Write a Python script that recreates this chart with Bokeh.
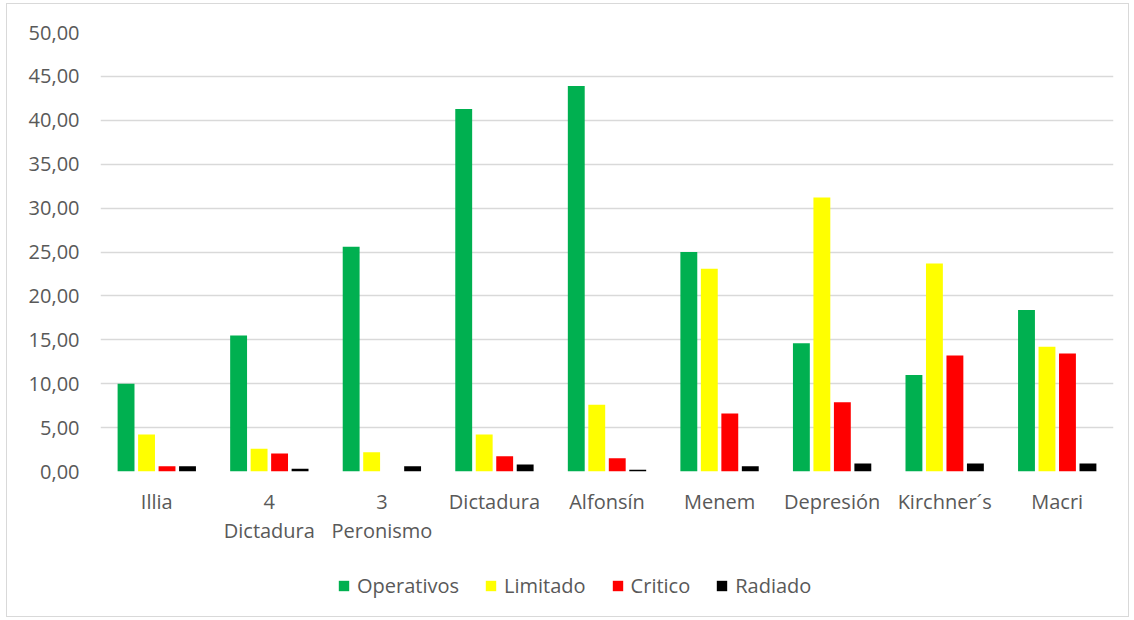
from bokeh.plotting import figure
from bokeh.models import ColumnDataSource, FactorRange, Range1d, Legend, LegendItem, CustomJSTickFormatter, FixedTicker
from bokeh.transform import dodge
from bokeh.layouts import column
from bokeh.embed import file_html
from bokeh.resources import INLINE

categories = ["Illia", "4\nDictadura", "3\nPeronismo", "Dictadura", "Alfonsín",
              "Menem", "Depresión", "Kirchner´s", "Macri"]
operativos = [10.0, 15.5, 25.6, 41.3, 43.9, 25.0, 14.6, 11.0, 18.4]
limitado   = [4.2, 2.6, 2.2, 4.2, 7.6, 23.1, 31.2, 23.7, 14.2]
critico    = [0.6, 2.05, 0.0, 1.75, 1.5, 6.6, 7.9, 13.2, 13.45]
radiado    = [0.6, 0.3, 0.6, 0.8, 0.2, 0.6, 0.9, 0.9, 0.9]
series_names = ["Operativos", "Limitado", "Critico", "Radiado"]
colors = ["#00B050", "#FFFF00", "#FF0000", "#000000"]
y_ticks = [0, 5, 10, 15, 20, 25, 30, 35, 40, 45, 50]

source = ColumnDataSource(dict(cat=categories, Operativos=operativos, Limitado=limitado,
                               Critico=critico, Radiado=radiado))

FONT = "Open Sans"
TXT = "#595959"

p = figure(x_range=FactorRange(*categories), y_range=Range1d(0, 50),
           width=1121, height=560, output_backend="svg", toolbar_location=None,
           min_border_left=93, min_border_right=15, min_border_top=28, min_border_bottom=93)
p.outline_line_color = None
p.border_fill_color = "white"
p.background_fill_color = "white"

offsets = [-0.273, -0.091, 0.091, 0.273]
for name, col, off in zip(series_names, colors, offsets):
    p.vbar(x=dodge("cat", off, range=p.x_range), top=name, width=0.15, source=source,
           fill_color=col, line_color=None)

p.xgrid.grid_line_color = None
p.ygrid.grid_line_color = "#d9d9d9"
p.ygrid.grid_line_width = 1.5
p.ygrid.ticker = FixedTicker(ticks=y_ticks)

p.yaxis.ticker = FixedTicker(ticks=y_ticks)
p.yaxis.formatter = CustomJSTickFormatter(code="return tick.toFixed(2).replace('.', ',');")
for ax in (p.xaxis[0], p.yaxis[0]):
    ax.axis_line_color = None
    ax.major_tick_line_color = None
    ax.minor_tick_line_color = None
    ax.major_tick_in = 0
    ax.major_tick_out = 0
    ax.major_label_text_font = FONT
    ax.major_label_text_font_size = "20px"
    ax.major_label_text_color = TXT
p.yaxis.major_label_standoff = 21
p.xaxis.major_label_standoff = 16
p.xaxis.major_label_text_line_height = 1.1

# legend strip
lf = figure(x_range=Range1d(0, 1), y_range=Range1d(0, 1), width=1121, height=52,
            output_backend="svg", toolbar_location=None,
            min_border_left=0, min_border_right=0, min_border_top=0, min_border_bottom=0)
lf.axis.visible = False
lf.grid.visible = False
lf.outline_line_color = None
lf.border_fill_color = "white"
lf.background_fill_color = "white"
leg_renderers = [lf.vbar(x=[0.5], top=[0], bottom=[0], width=0.0, fill_color=c, line_color=None)
                 for c in colors]

legend = Legend(items=[LegendItem(label=n, renderers=[r]) for n, r in zip(series_names, leg_renderers)],
                orientation="horizontal", location=(237, 17),
                label_text_font=FONT, label_text_font_size="20px", label_text_color=TXT,
                glyph_width=13, glyph_height=13, label_standoff=7, spacing=25, label_height=24,
                padding=0, margin=0, border_line_color=None, background_fill_alpha=0)
lf.add_layout(legend, "center")

layout = column(p, lf, spacing=0,
                styles={"border": "1px solid #d9d9d9", "margin-left": "6px", "margin-top": "3px",
                        "background": "white"})

open("out.html", "w").write(file_html(layout, INLINE))
